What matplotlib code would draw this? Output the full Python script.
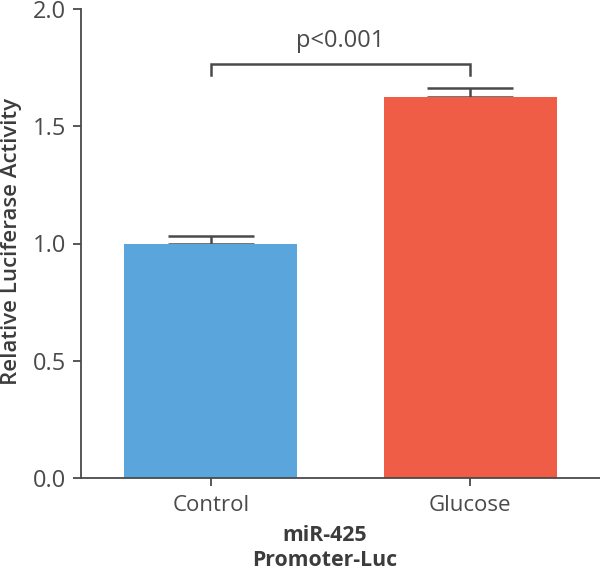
import matplotlib
matplotlib.use("Agg")
import matplotlib.pyplot as plt

groups = ["Control", "Glucose"]
activity = [1.0, 1.626]
error = [0.032, 0.037]
bar_colors = ["#59A5DC", "#EF5D47"]
p_label = "p<0.001"
y_ticks = [0.0, 0.5, 1.0, 1.5, 2.0]

plt.rcParams["font.family"] = ["Open Sans", "DejaVu Sans"]
ink = "#4a4a4a"

fig = plt.figure(figsize=(6.0, 5.71), dpi=100)
ax = fig.add_axes([81 / 600, 1 - 478 / 571, 519 / 600, 469 / 571])

x = list(range(len(groups)))
ax.bar(x, activity, width=0.667, color=bar_colors, zorder=2)
ax.errorbar(x, activity, yerr=[[0, 0], error], fmt="none", ecolor=ink,
            elinewidth=1.8, capsize=31, capthick=1.8, zorder=1)

# significance bracket
top = 1.765
ax.plot([0, 0, 1, 1], [1.72, top, top, 1.72], color=ink, lw=1.8,
        solid_joinstyle="miter", clip_on=False)
ax.text(0.5, 1.838, p_label, ha="center", va="baseline",
        fontsize=17, color=ink)

ax.set_xlim(-0.5, 1.5)
ax.set_ylim(0, 2.0)
ax.set_yticks(y_ticks)
ax.set_yticklabels([f"{v:.1f}" for v in y_ticks])
ax.set_xticks(x)
ax.set_xticklabels(groups, fontsize=16, color=ink)

for side in ["top", "right"]:
    ax.spines[side].set_visible(False)
for side in ["left", "bottom"]:
    ax.spines[side].set_color(ink)
    ax.spines[side].set_linewidth(1.3)

ax.tick_params(axis="y", labelsize=17, colors=ink, length=6, width=1.3, pad=5)
ax.tick_params(axis="x", colors=ink, length=6, width=1.3, pad=6)

ax.set_ylabel("Relative Luciferase Activity", fontsize=16, color="#3c3c3c",
              fontweight="semibold", va="center", ha="center")
ax.yaxis.set_label_coords(-0.133, 0.505, transform=ax.transAxes)
ax.set_xlabel("miR-425\nPromoter-Luc", fontsize=15.3, color="#3c3c3c",
              fontweight="bold", linespacing=1.25)
ax.xaxis.set_label_coords(0.47, -0.1, transform=ax.transAxes)
ax.xaxis.label.set_va("top")

fig.savefig("out.png", dpi=100)
